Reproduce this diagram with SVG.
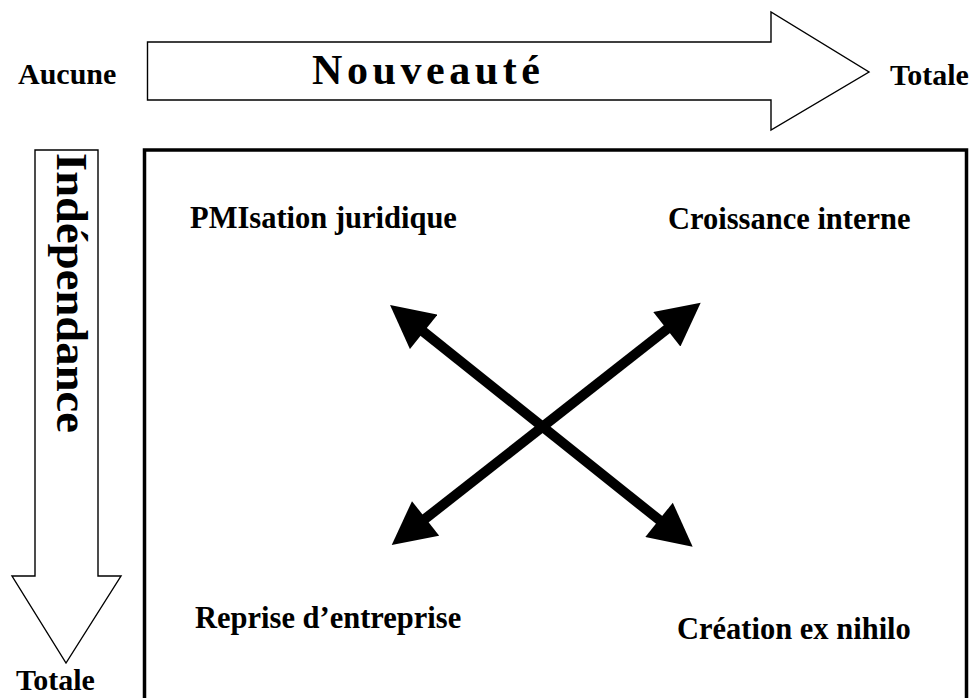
<svg xmlns="http://www.w3.org/2000/svg" width="978" height="698" viewBox="0 0 978 698">
<style>
  .lbl { font-family: "Liberation Serif", "Times New Roman", serif; font-weight: bold; fill: #000; }
  .q { font-size: 30.5px; }
  .end { font-size: 30px; }
  .big { font-family: "Liberation Serif", "Times New Roman", serif; font-weight: bold; fill: #000; }
  .outline { fill: #fff; stroke: #000; stroke-width: 1.4; stroke-linejoin: miter; }
  .x { stroke: #000; stroke-width: 10; fill: none; marker-start: url(#ah); marker-end: url(#ah); }
</style>
<defs>
  <marker id="ah" markerUnits="userSpaceOnUse" markerWidth="44" markerHeight="44" viewBox="0 0 43 44" refX="3" refY="22" orient="auto-start-reverse">
    <path d="M0,0 L43,22 L0,44 z" fill="#000"/>
  </marker>
</defs>
<rect width="978" height="698" fill="#fff"/>

<g id="axis-nouveaute">
  <path class="outline" d="M147.5,42 L771,42 L771,12 L869,72 L771,130 L771,100 L147.5,100 Z"/>
  <text class="big" x="312" y="84" font-size="42" textLength="228" lengthAdjust="spacing">N o u v e a u t é</text>
</g>
<g id="label-aucune"><text class="lbl end" x="18" y="84">Aucune</text></g>
<g id="label-totale-h"><text class="lbl end" x="890" y="85">Totale</text></g>

<g id="axis-independance">
  <path class="outline" d="M35,150 L98,150 L98,576 L121,576 L66,663 L12,576 L35,576 Z"/>
  <text class="big" transform="translate(57,153) rotate(90)" x="0" y="0" font-size="44" textLength="280" lengthAdjust="spacingAndGlyphs">Indépendance</text>
</g>
<g id="label-totale-v"><text class="lbl end" x="16" y="690">Totale</text></g>

<g id="frame">
  <rect x="144.5" y="150" width="822" height="560" fill="none" stroke="#000" stroke-width="3.5"/>
</g>

<g id="q-pmisation"><text class="lbl q" x="190" y="228">PMIsation juridique</text></g>
<g id="q-croissance"><text class="lbl q" x="668" y="229">Croissance interne</text></g>
<g id="q-reprise"><text class="lbl q" x="195" y="628">Reprise d’entreprise</text></g>
<g id="q-creation"><text class="lbl q" x="677" y="639">Création ex nihilo</text></g>

<g id="connectors">
  <line class="x" x1="421.3" y1="330" x2="661.4" y2="521.7"/>
  <line class="x" x1="423.2" y1="520.3" x2="669.2" y2="327.4"/>
</g>
</svg>
